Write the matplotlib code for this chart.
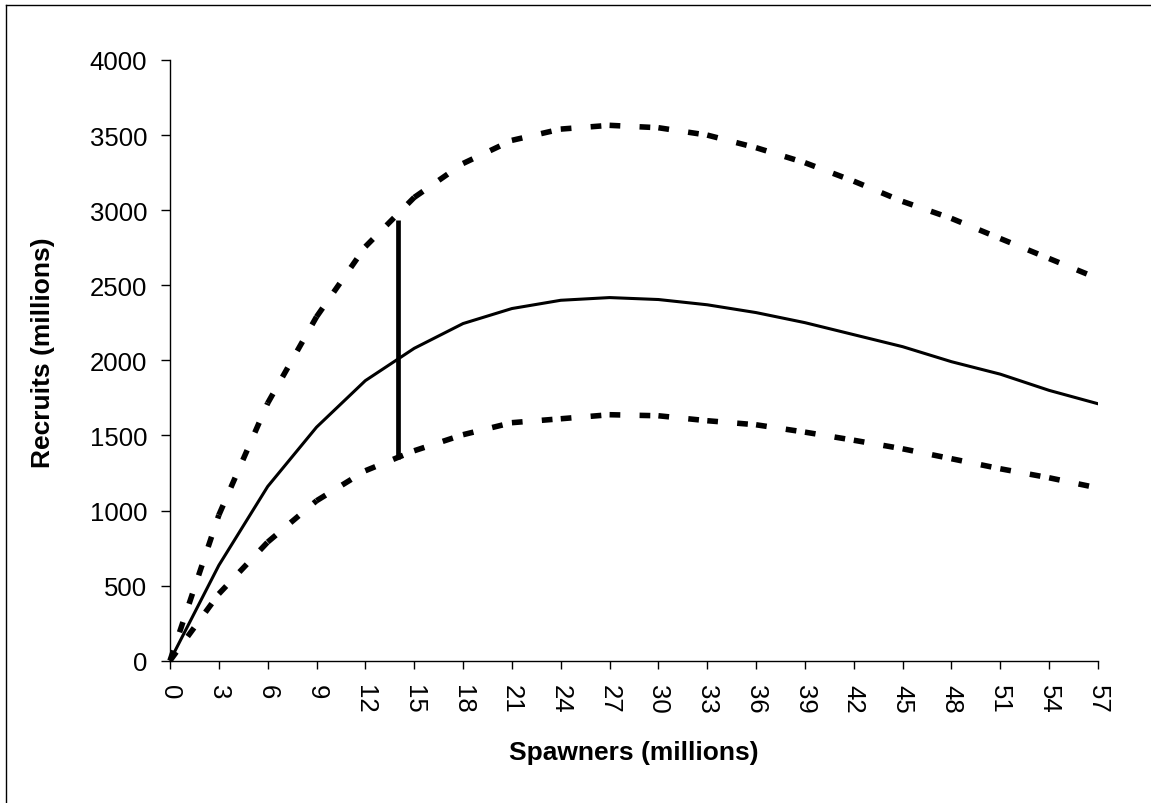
import matplotlib
matplotlib.use("Agg")
import matplotlib.pyplot as plt
from matplotlib.lines import Line2D

plt.rcParams['font.family'] = ['Liberation Sans', 'DejaVu Sans']

# Spawner levels (millions)
spawners = [0, 3, 6, 9, 12, 15, 18, 21, 24, 27, 30, 33, 36, 39, 42, 45, 48, 51, 54, 57]

# Fitted recruitment curve (millions)
recruits_fit = [0, 635, 1160, 1555, 1865, 2080, 2245, 2345, 2400, 2418,
                2405, 2370, 2318, 2251, 2171, 2091, 1991, 1908, 1800, 1711]

# Upper and lower bounds (millions)
recruits_upper = [0, 970, 1715, 2290, 2757, 3085, 3311, 3465, 3540, 3565,
                  3549, 3500, 3416, 3316, 3193, 3058, 2945, 2811, 2678, 2545]
recruits_lower = [0, 445, 790, 1065, 1265, 1398, 1505, 1585, 1611, 1638,
                  1631, 1598, 1571, 1522, 1468, 1411, 1345, 1278, 1218, 1150]

# Range at the reference spawner level
ref_spawners = 14
ref_low, ref_high = 1343, 2937

x_ticks = list(range(0, 58, 3))
y_ticks = list(range(0, 4001, 500))

W, H = 1151, 804
fig = plt.figure(figsize=(W / 100, H / 100), dpi=100)
ax = fig.add_axes([170 / W, 1 - 661.7 / H, 928 / W, 600.7 / H])

# Bounds: dash pattern restarts at each data point
for series in (recruits_upper, recruits_lower):
    for i in range(len(spawners) - 1):
        ax.plot(spawners[i:i + 2], series[i:i + 2], color='black', lw=4.0,
                linestyle=(0, (1.93, 3.47)), dash_capstyle='butt',
                solid_capstyle='butt', clip_on=False)

ax.plot(spawners, recruits_fit, color='black', lw=2.2, solid_joinstyle='miter')
ax.plot([ref_spawners, ref_spawners], [ref_low, ref_high], color='black',
        lw=3.4, solid_capstyle='butt')

ax.set_xlim(0, 57)
ax.set_ylim(0, 4000)
ax.set_xticks(x_ticks)
ax.set_yticks(y_ticks)
ax.set_xticklabels([str(v) for v in x_ticks], rotation=-90)

for side in ('top', 'right'):
    ax.spines[side].set_visible(False)
for side in ('left', 'bottom'):
    ax.spines[side].set_linewidth(1.0)
    ax.spines[side].set_color('black')

ax.tick_params(axis='y', direction='out', length=6.5, width=1.0, pad=10,
               labelsize=18.5, colors='black')
ax.tick_params(axis='x', direction='out', length=6, width=1.0, pad=11,
               labelsize=18.5, colors='black')

ax.set_xlabel('Spawners (millions)', fontsize=19, fontweight='bold')
ax.xaxis.label.set_va('center')
ax.xaxis.set_label_coords(0.5, (661.7 - 753) / 600.7)

ax.set_ylabel('Recruits (millions)', fontsize=19, fontweight='bold')
ax.yaxis.label.set_va('center')
ax.yaxis.set_label_coords((43.3 - 170) / 928, (661.7 - 353) / 600.7)

# Chart frame (left and top edges)
fig.add_artist(Line2D([5.5 / W, 5.5 / W], [1 - 6 / H, -0.05], color='black',
                      lw=1.0, transform=fig.transFigure))
fig.add_artist(Line2D([5.5 / W, 1.05], [1 - 6 / H, 1 - 6 / H], color='black',
                      lw=1.0, transform=fig.transFigure))

fig.savefig('out.png', dpi=100, facecolor='white')
